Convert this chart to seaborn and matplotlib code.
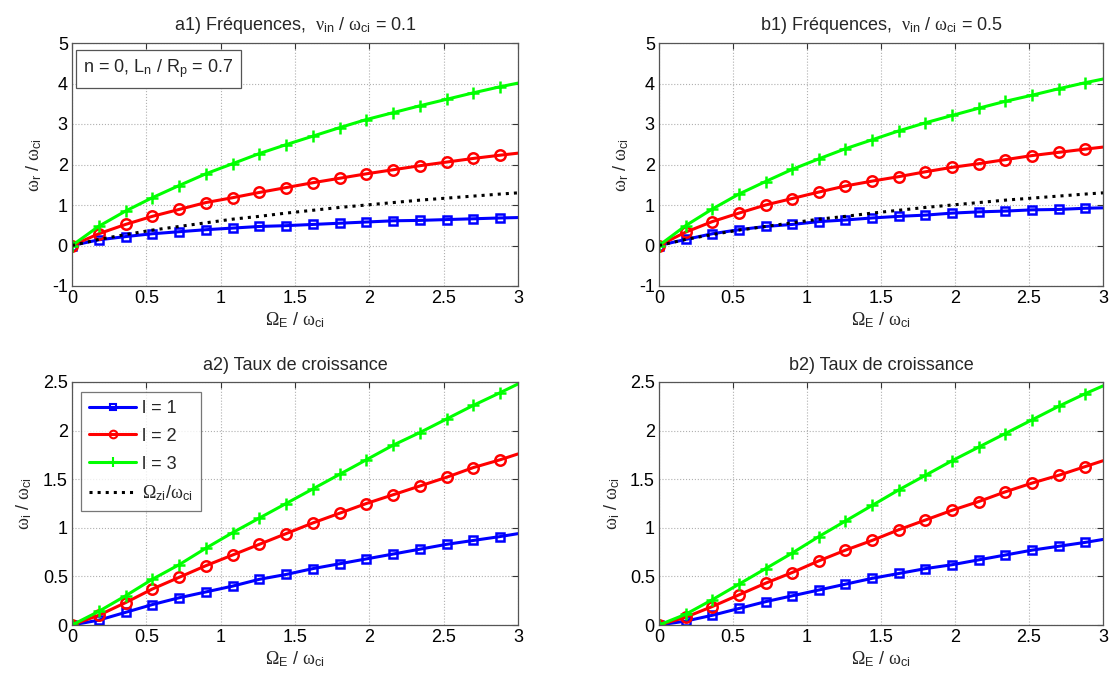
import numpy as np
import pandas as pd
import matplotlib
matplotlib.use("Agg")
import matplotlib.pyplot as plt
import seaborn as sns
from matplotlib.lines import Line2D

# ---------------- data ----------------
omega_e = [0, 0.18, 0.36, 0.54, 0.72, 0.90, 1.08, 1.26, 1.44, 1.62, 1.80,
           1.98, 2.16, 2.34, 2.52, 2.70, 2.88, 3.0]

a1_l1 = [0, 0.14, 0.22, 0.29, 0.34, 0.39, 0.43, 0.47, 0.49, 0.52, 0.55,
         0.58, 0.61, 0.62, 0.64, 0.66, 0.68, 0.69]
a1_l2 = [0, 0.29, 0.52, 0.72, 0.89, 1.06, 1.18, 1.31, 1.43, 1.55, 1.66,
         1.77, 1.87, 1.97, 2.06, 2.15, 2.23, 2.28]
a1_l3 = [0, 0.475, 0.85, 1.18, 1.48, 1.77, 2.02, 2.27, 2.49, 2.70, 2.91,
         3.11, 3.28, 3.45, 3.61, 3.77, 3.92, 4.01]
omega_zi = [0, 0.15, 0.27, 0.38, 0.47, 0.56, 0.65, 0.72, 0.80, 0.87, 0.94,
            1.00, 1.06, 1.12, 1.17, 1.22, 1.27, 1.30]

b1_l1 = [0, 0.15, 0.29, 0.39, 0.47, 0.52, 0.59, 0.63, 0.68, 0.72, 0.75,
         0.80, 0.83, 0.85, 0.88, 0.89, 0.92, 0.93]
b1_l2 = [0, 0.33, 0.59, 0.80, 1.00, 1.16, 1.32, 1.47, 1.59, 1.70, 1.82,
         1.93, 2.02, 2.12, 2.22, 2.30, 2.38, 2.43]
b1_l3 = [0, 0.49, 0.90, 1.27, 1.58, 1.88, 2.14, 2.39, 2.61, 2.83, 3.03,
         3.21, 3.39, 3.56, 3.71, 3.87, 4.02, 4.11]

a2_l1 = [0, 0.05, 0.13, 0.21, 0.28, 0.34, 0.40, 0.47, 0.52, 0.58, 0.63,
         0.68, 0.73, 0.78, 0.83, 0.87, 0.91, 0.94]
a2_l2 = [0, 0.10, 0.23, 0.37, 0.49, 0.61, 0.72, 0.83, 0.94, 1.05, 1.15,
         1.25, 1.34, 1.43, 1.52, 1.62, 1.70, 1.76]
a2_l3 = [0, 0.14, 0.30, 0.47, 0.62, 0.79, 0.95, 1.10, 1.25, 1.40, 1.55,
         1.70, 1.85, 1.98, 2.12, 2.26, 2.39, 2.48]

b2_l1 = [0, 0.04, 0.10, 0.17, 0.24, 0.30, 0.36, 0.42, 0.48, 0.53, 0.58,
         0.62, 0.67, 0.72, 0.77, 0.81, 0.85, 0.88]
b2_l2 = [0, 0.08, 0.19, 0.31, 0.43, 0.54, 0.66, 0.77, 0.87, 0.98, 1.08,
         1.18, 1.27, 1.37, 1.46, 1.54, 1.63, 1.69]
b2_l3 = [0, 0.11, 0.26, 0.42, 0.58, 0.74, 0.91, 1.07, 1.23, 1.39, 1.54,
         1.69, 1.83, 1.97, 2.11, 2.25, 2.38, 2.46]

titles = ["a1) Fréquences,  $\\mathrm{\\nu}_\\mathsf{in}$ / $\\mathrm{\\omega}_\\mathsf{ci}$ = 0.1",
          "b1) Fréquences,  $\\mathrm{\\nu}_\\mathsf{in}$ / $\\mathrm{\\omega}_\\mathsf{ci}$ = 0.5",
          "a2) Taux de croissance",
          "b2) Taux de croissance"]
legend_labels = ["l = 1", "l = 2", "l = 3",
                 "$\\mathrm{\\Omega}_\\mathsf{zi}$/$\\mathrm{\\omega}_\\mathsf{ci}$"]
xticks = [0, 0.5, 1, 1.5, 2, 2.5, 3]
xticklabels = ["0", "0.5", "1", "1.5", "2", "2.5", "3"]
yticks_top = [-1, 0, 1, 2, 3, 4, 5]
yticks_bot = [0, 0.5, 1, 1.5, 2, 2.5]
yticklabels_bot = ["0", "0.5", "1", "1.5", "2", "2.5"]

# ---------------- style ----------------
sns.set_style("white")
plt.rcParams["font.family"] = ["Liberation Sans", "DejaVu Sans"]
plt.rcParams["mathtext.fontset"] = "custom"
plt.rcParams["mathtext.rm"] = "Liberation Serif"
plt.rcParams["mathtext.it"] = "Liberation Serif:italic"
plt.rcParams["mathtext.bf"] = "Liberation Serif:bold"
plt.rcParams["mathtext.sf"] = "Liberation Sans"
FS = 13

fig = plt.figure(figsize=(11.14, 6.85), dpi=100)
W = 1114.0
H = 685.0
def rect(l, r, t, b):
    return [l / W, 1 - b / H, (r - l) / W, (b - t) / H]

ax_a1 = fig.add_axes(rect(72, 518, 43, 286))
ax_b1 = fig.add_axes(rect(659, 1103, 43, 286))
ax_a2 = fig.add_axes(rect(72, 518, 382, 625))
ax_b2 = fig.add_axes(rect(659, 1103, 382, 625))

blue = "#0000ff"
red = "#ff0000"
green = "#00ff00"
mark_idx = list(range(len(omega_e) - 1))

def draw_series(ax, l1, l2, l3, zi=None):
    x = np.array(omega_e)
    sns.lineplot(x=x, y=l1, ax=ax, color=blue, lw=2.2, marker="s", markersize=6,
                 markerfacecolor="none", markeredgecolor=blue, markeredgewidth=1.8,
                 markevery=mark_idx, estimator=None, sort=False)
    sns.lineplot(x=x, y=l2, ax=ax, color=red, lw=2.2, marker="o", markersize=7.5,
                 markerfacecolor="none", markeredgecolor=red, markeredgewidth=1.8,
                 markevery=mark_idx, estimator=None, sort=False)
    sns.lineplot(x=x, y=l3, ax=ax, color=green, lw=2.2, marker="+", markersize=9,
                 markeredgecolor=green, markeredgewidth=1.8,
                 markevery=mark_idx, estimator=None, sort=False)
    if zi is not None:
        sns.lineplot(x=x, y=zi, ax=ax, color="black", lw=2.2, linestyle=":",
                     estimator=None, sort=False)

draw_series(ax_a1, a1_l1, a1_l2, a1_l3, omega_zi)
draw_series(ax_b1, b1_l1, b1_l2, b1_l3, omega_zi)
draw_series(ax_a2, a2_l1, a2_l2, a2_l3)
draw_series(ax_b2, b2_l1, b2_l2, b2_l3)

xlabel = "$\\mathrm{\\Omega}_\\mathsf{E}$ / $\\mathrm{\\omega}_\\mathsf{ci}$"
for i, ax in enumerate([ax_a1, ax_b1, ax_a2, ax_b2]):
    top = i < 2
    ax.set_xlim(0, 3)
    ax.set_xticks(xticks)
    ax.set_xticklabels(xticklabels)
    if top:
        ax.set_ylim(-1, 5)
        ax.set_yticks(yticks_top)
        ax.set_yticklabels([str(v) for v in yticks_top])
        ax.set_ylabel("$\\mathrm{\\omega}_\\mathsf{r}$ / $\\mathrm{\\omega}_\\mathsf{ci}$",
                      fontsize=FS, labelpad=6)
    else:
        ax.set_ylim(0, 2.5)
        ax.set_yticks(yticks_bot)
        ax.set_yticklabels(yticklabels_bot)
        ax.set_ylabel("$\\mathrm{\\omega}_\\mathsf{i}$ / $\\mathrm{\\omega}_\\mathsf{ci}$",
                      fontsize=FS, labelpad=6)
    ax.set_xlabel(xlabel, fontsize=FS, labelpad=2)
    ax.set_title(titles[i], fontsize=FS, pad=9)
    ax.grid(True, linestyle=":", color="#b0b0b0", lw=0.8)
    ax.tick_params(direction="in", length=4, width=0.8, colors="#333333",
                   labelsize=FS, top=True, right=True, labelcolor="black", pad=3)
    for s in ax.spines.values():
        s.set_color("#555555")
        s.set_linewidth(0.9)
        s.set_visible(True)
    ax.set_facecolor("white")
    if ax.get_legend() is not None:
        ax.get_legend().remove()

ax_a1.text(0.025, 0.94, "n = 0, L$_\\mathsf{n}$ / R$_\\mathsf{p}$ = 0.7", transform=ax_a1.transAxes,
           fontsize=FS, va="top", ha="left",
           bbox=dict(boxstyle="square,pad=0.4", facecolor="white", edgecolor="#555555", lw=0.9))

handles = [
    Line2D([], [], color=blue, lw=2.2, marker="s", markersize=5, markerfacecolor="none",
           markeredgewidth=1.5),
    Line2D([], [], color=red, lw=2.2, marker="o", markersize=5.5, markerfacecolor="none",
           markeredgewidth=1.5),
    Line2D([], [], color=green, lw=2.2, marker="+", markersize=7, markeredgewidth=1.5),
    Line2D([], [], color="black", lw=2.2, linestyle=":"),
]
leg = ax_a2.legend(handles, legend_labels, loc="upper left", bbox_to_anchor=(0.02, 0.96),
                   fontsize=FS, frameon=True, fancybox=False, handlelength=2.6,
                   borderpad=0.45, labelspacing=0.6, handletextpad=0.35,
                   borderaxespad=0.0)
leg.get_frame().set_edgecolor("#555555")
leg.get_frame().set_linewidth(0.9)

fig.savefig("out.png", dpi=100, facecolor="white")
